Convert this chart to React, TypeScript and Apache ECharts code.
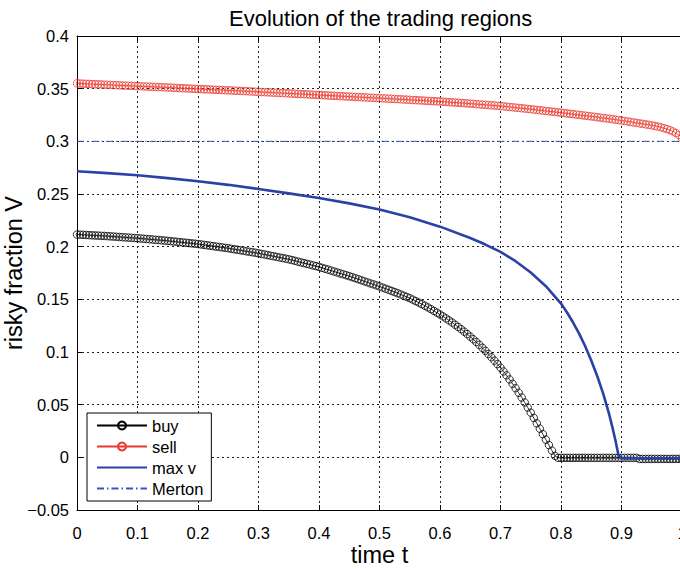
import React, { useEffect, useRef } from 'react';
import * as echarts from 'echarts';

// sampling step of the buy / sell boundaries (time t)
const STEP = 0.005;

const buyValues = [
  0.2115, 0.2114, 0.2112, 0.2111, 0.2109, 0.2108, 0.2106, 0.2105, 0.2103, 0.2102,
  0.2100, 0.2098, 0.2096, 0.2094, 0.2092, 0.2090, 0.2088, 0.2086, 0.2084, 0.2082,
  0.2080, 0.2078, 0.2075, 0.2073, 0.2070, 0.2068, 0.2065, 0.2063, 0.2060, 0.2058,
  0.2055, 0.2052, 0.2049, 0.2046, 0.2043, 0.2040, 0.2037, 0.2034, 0.2031, 0.2028,
  0.2025, 0.2021, 0.2017, 0.2013, 0.2009, 0.2005, 0.2001, 0.1997, 0.1993, 0.1989,
  0.1985, 0.1980, 0.1975, 0.1971, 0.1966, 0.1961, 0.1956, 0.1951, 0.1947, 0.1942,
  0.1937, 0.1931, 0.1926, 0.1920, 0.1914, 0.1909, 0.1903, 0.1897, 0.1891, 0.1886,
  0.1880, 0.1873, 0.1866, 0.1858, 0.1851, 0.1844, 0.1837, 0.1830, 0.1822, 0.1815,
  0.1808, 0.1799, 0.1790, 0.1782, 0.1773, 0.1764, 0.1755, 0.1746, 0.1738, 0.1729,
  0.1720, 0.1710, 0.1700, 0.1691, 0.1681, 0.1671, 0.1661, 0.1651, 0.1642, 0.1632,
  0.1622, 0.1612, 0.1601, 0.1591, 0.1580, 0.1569, 0.1558, 0.1546, 0.1535, 0.1523,
  0.1511, 0.1497, 0.1483, 0.1469, 0.1454, 0.1439, 0.1423, 0.1407, 0.1390, 0.1373,
  0.1356, 0.1338, 0.1319, 0.1300, 0.1280, 0.1259, 0.1238, 0.1216, 0.1193, 0.1170,
  0.1146, 0.1121, 0.1095, 0.1068, 0.1040, 0.1011, 0.0981, 0.0950, 0.0918, 0.0885,
  0.0851, 0.0815, 0.0778, 0.0739, 0.0698, 0.0656, 0.0613, 0.0568, 0.0521, 0.0473,
  0.0424, 0.0374, 0.0323, 0.0272, 0.0220, 0.0168, 0.0116, 0.0064, 0.0014, -0.0005,
  -0.0005, -0.0005, -0.0005, -0.0005, -0.0005, -0.0005, -0.0005, -0.0005, -0.0005, -0.0005,
  -0.0005, -0.0005, -0.0005, -0.0005, -0.0005, -0.0005, -0.0005, -0.0005, -0.0005, -0.0005,
  -0.0005, -0.0005, -0.0005, -0.0005, -0.0005, -0.0005, -0.0015, -0.0015, -0.0015, -0.0015,
  -0.0015, -0.0015, -0.0015, -0.0015, -0.0015, -0.0015, -0.0015, -0.0015, -0.0015, -0.0015,
  -0.0015,
];

const sellValues = [
  0.3550, 0.3549, 0.3547, 0.3546, 0.3545, 0.3543, 0.3542, 0.3541, 0.3540, 0.3538,
  0.3537, 0.3536, 0.3534, 0.3533, 0.3532, 0.3530, 0.3529, 0.3528, 0.3527, 0.3525,
  0.3524, 0.3523, 0.3521, 0.3520, 0.3519, 0.3517, 0.3516, 0.3515, 0.3514, 0.3512,
  0.3511, 0.3510, 0.3508, 0.3507, 0.3505, 0.3504, 0.3503, 0.3501, 0.3500, 0.3498,
  0.3497, 0.3496, 0.3494, 0.3493, 0.3492, 0.3490, 0.3489, 0.3488, 0.3487, 0.3485,
  0.3484, 0.3483, 0.3481, 0.3480, 0.3478, 0.3477, 0.3476, 0.3474, 0.3473, 0.3471,
  0.3470, 0.3468, 0.3467, 0.3465, 0.3464, 0.3462, 0.3461, 0.3459, 0.3458, 0.3456,
  0.3455, 0.3453, 0.3452, 0.3450, 0.3449, 0.3447, 0.3446, 0.3444, 0.3443, 0.3441,
  0.3440, 0.3438, 0.3437, 0.3435, 0.3434, 0.3432, 0.3431, 0.3429, 0.3428, 0.3426,
  0.3425, 0.3423, 0.3422, 0.3420, 0.3419, 0.3417, 0.3416, 0.3414, 0.3413, 0.3411,
  0.3410, 0.3408, 0.3407, 0.3405, 0.3404, 0.3402, 0.3400, 0.3399, 0.3397, 0.3396,
  0.3394, 0.3392, 0.3391, 0.3389, 0.3388, 0.3386, 0.3384, 0.3383, 0.3381, 0.3380,
  0.3378, 0.3376, 0.3374, 0.3372, 0.3370, 0.3368, 0.3366, 0.3364, 0.3362, 0.3360,
  0.3358, 0.3356, 0.3353, 0.3351, 0.3349, 0.3347, 0.3344, 0.3342, 0.3340, 0.3337,
  0.3335, 0.3332, 0.3329, 0.3326, 0.3323, 0.3320, 0.3317, 0.3314, 0.3311, 0.3308,
  0.3305, 0.3302, 0.3298, 0.3295, 0.3292, 0.3288, 0.3285, 0.3282, 0.3279, 0.3275,
  0.3272, 0.3268, 0.3265, 0.3261, 0.3258, 0.3254, 0.3251, 0.3247, 0.3244, 0.3240,
  0.3237, 0.3233, 0.3229, 0.3225, 0.3221, 0.3218, 0.3214, 0.3210, 0.3206, 0.3202,
  0.3198, 0.3193, 0.3189, 0.3184, 0.3179, 0.3175, 0.3170, 0.3166, 0.3161, 0.3157,
  0.3152, 0.3146, 0.3140, 0.3133, 0.3125, 0.3116, 0.3106, 0.3094, 0.3079, 0.3060,
  0.3030,
];

const maxVTimes = [
  0, 0.05, 0.1, 0.15, 0.2, 0.25, 0.3, 0.35, 0.4, 0.45, 0.5, 0.55, 0.6, 0.65, 0.675,
  0.7, 0.725, 0.75, 0.775, 0.8, 0.81, 0.82, 0.83, 0.84, 0.85, 0.86, 0.87, 0.88, 0.885,
  0.89, 0.895, 0.9, 0.95, 1,
];
const maxVValues = [
  0.2716, 0.2698, 0.2678, 0.2651, 0.2621, 0.2587, 0.2548, 0.2506, 0.2462, 0.2411,
  0.2353, 0.2280, 0.2190, 0.2082, 0.2020, 0.1951, 0.1862, 0.1755, 0.1625, 0.1460,
  0.1375, 0.1280, 0.1175, 0.1055, 0.0920, 0.0770, 0.0600, 0.0400, 0.0285, 0.0160,
  0.0020, -0.0010, -0.0010, -0.0010,
];

const mertonTimes = [0, 1];
const mertonValues = [0.3, 0.3];

const seriesNames = ['buy', 'sell', 'max v', 'Merton'];

const FONT = "'Liberation Sans', Arial, Helvetica, sans-serif";

function fmtTick(v: number): string {
  const r = parseFloat(v.toFixed(3));
  if (r < 0) return '\u2212' + String(Math.abs(r));
  return String(r);
}

export default function App() {
  const ref = useRef<HTMLDivElement>(null);

  useEffect(() => {
    document.body.style.margin = '0';
    if (!ref.current) return;
    const chart = echarts.init(ref.current, undefined, { renderer: 'svg' });

    const sampleTimes = buyValues.map((_, i) => parseFloat((i * STEP).toFixed(3)));
    const buyData = sampleTimes.map((t, i) => [t, buyValues[i]]);
    const sellData = sampleTimes.map((t, i) => [t, sellValues[i]]);
    const maxVData = maxVTimes.map((t, i) => [t, maxVValues[i]]);
    const mertonData = mertonTimes.map((t, i) => [t, mertonValues[i]]);

    const gridLine = { show: true, lineStyle: { color: '#222', width: 1, type: [2, 3] as any } };
    const noMarker = { color: 'rgba(0,0,0,0)', borderWidth: 0 };

    chart.setOption({
      animation: false,
      backgroundColor: '#fff',
      title: {
        text: 'Evolution of the trading regions',
        left: 224,
        top: 2,
        textStyle: { fontFamily: FONT, fontSize: 22, fontWeight: 'normal', color: '#000' },
      },
      grid: { left: 77, right: -2, top: 36, bottom: 59, containLabel: false, outerBoundsMode: 'none' },
      legend: {
        data: seriesNames,
        orient: 'vertical',
        left: 87,
        top: 413,
        backgroundColor: '#fff',
        borderColor: '#000',
        borderWidth: 1,
        borderRadius: 0,
        padding: [4, 8, 4, 9],
        itemWidth: 50,
        itemHeight: 10,
        itemGap: 4,
        textStyle: { fontFamily: FONT, fontSize: 16.5, color: '#000' },
      },
      xAxis: [
        {
          type: 'value',
          min: 0,
          max: 1,
          interval: 0.1,
          name: 'time t',
          nameLocation: 'middle',
          nameGap: 33,
          nameMoveOverlap: false,
          nameTextStyle: { fontFamily: FONT, fontSize: 23.5, color: '#000' },
          axisLine: { show: true, onZero: false, lineStyle: { color: '#000', width: 1 } },
          axisTick: { show: true, inside: true, length: 5, lineStyle: { color: '#000' } },
          axisLabel: { fontFamily: FONT, fontSize: 16.5, color: '#000', margin: 14, formatter: fmtTick },
          splitLine: gridLine,
        },
        {
          type: 'value',
          position: 'top',
          min: 0,
          max: 1,
          interval: 0.1,
          axisLine: { show: true, onZero: false, lineStyle: { color: '#000', width: 1 } },
          axisTick: { show: true, inside: true, length: 5, lineStyle: { color: '#000' } },
          axisLabel: { show: false },
          splitLine: { show: false },
        },
      ],
      yAxis: {
        type: 'value',
        min: -0.05,
        max: 0.4,
        interval: 0.05,
        name: 'risky fraction V',
        nameLocation: 'middle',
        nameGap: 51,
        nameMoveOverlap: false,
        nameTextStyle: { fontFamily: FONT, fontSize: 23.5, color: '#000' },
        axisLine: { show: true, onZero: false, lineStyle: { color: '#000', width: 1 } },
        axisTick: { show: true, inside: true, length: 5, lineStyle: { color: '#000' } },
        axisLabel: { fontFamily: FONT, fontSize: 16.5, color: '#000', margin: 8, formatter: fmtTick },
        splitLine: gridLine,
      },
      series: [
        {
          name: 'buy',
          type: 'line',
          data: buyData,
          symbol: 'circle',
          symbolSize: 7.5,
          lineStyle: { color: '#000', width: 0.8 },
          itemStyle: { color: 'rgba(255,255,255,0)', borderColor: '#000', borderWidth: 0.8 },
          emphasis: { disabled: true },
          z: 3,
        },
        {
          name: 'sell',
          type: 'line',
          data: sellData,
          symbol: 'circle',
          symbolSize: 7.5,
          lineStyle: { color: '#e8392e', width: 0.8 },
          itemStyle: { color: 'rgba(255,255,255,0)', borderColor: '#e8392e', borderWidth: 0.8 },
          emphasis: { disabled: true },
          z: 3,
        },
        {
          name: 'max v',
          type: 'line',
          data: maxVData,
          symbol: 'none',
          lineStyle: { color: '#2a42a6', width: 2.6 },
          itemStyle: noMarker,
          emphasis: { disabled: true },
          z: 4,
        },
        {
          name: 'Merton',
          type: 'line',
          data: mertonData,
          symbol: 'none',
          lineStyle: { color: '#3a55c0', width: 1, type: [7, 3, 1.5, 3] as any },
          itemStyle: noMarker,
          emphasis: { disabled: true },
          z: 2,
        },
      ],
    });

    return () => chart.dispose();
  }, []);

  return <div ref={ref} style={{ width: 680, height: 569 }} />;
}
